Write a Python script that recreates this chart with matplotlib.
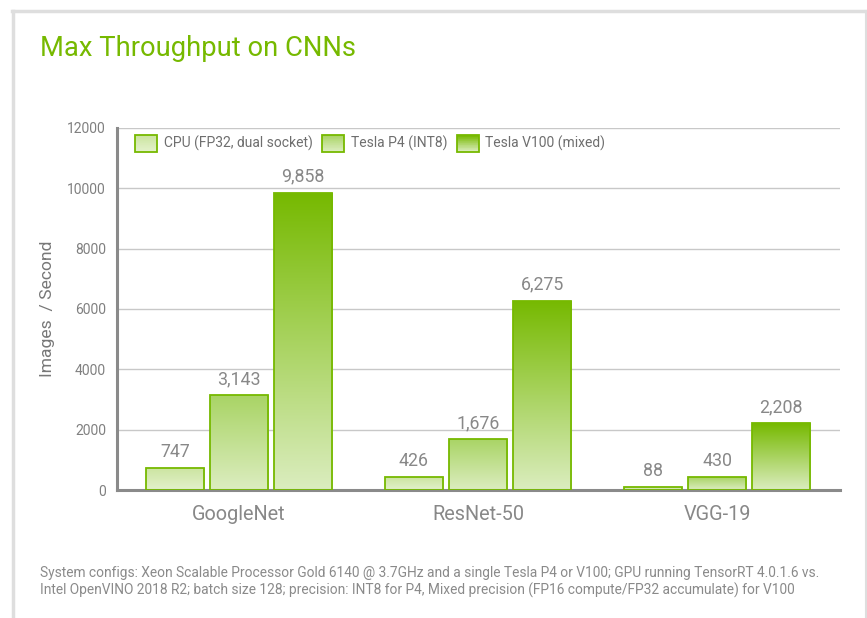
import numpy as np
import matplotlib
matplotlib.use('Agg')
import matplotlib.pyplot as plt
from matplotlib.colors import LinearSegmentedColormap, to_rgb
from matplotlib.patches import Patch, Rectangle
from matplotlib.legend_handler import HandlerBase
from matplotlib.lines import Line2D

plt.rcParams['font.family'] = ['Roboto', 'DejaVu Sans']

# data
networks = ['GoogleNet', 'ResNet-50', 'VGG-19']
series = ['CPU (FP32, dual socket)', 'Tesla P4 (INT8)', 'Tesla V100 (mixed)']
cpu = [747, 426, 88]
p4 = [3143, 1676, 430]
v100 = [9858, 6275, 2208]
yticks = [0, 2000, 4000, 6000, 8000, 10000, 12000]

green = '#76b900'
grey_txt = '#888888'
# (bottom colour, top colour) of each series' gradient
grads = [('#e3f1cb', '#cbe49f'), ('#dcedc0', '#a9d465'), ('#dbedbf', '#76b900')]

fig = plt.figure(figsize=(8.67, 6.18), dpi=100)
ax = fig.add_axes([0.135, 0.207, 0.834, 0.586])

x = np.arange(len(networks))
step = 0.268
width = 0.243


def grad_bar(bar, c_bot, c_top):
    x0, y0 = bar.get_x(), bar.get_y()
    w, h = bar.get_width(), bar.get_height()
    g = np.linspace(0, 1, 256).reshape(-1, 1)
    cmap = LinearSegmentedColormap.from_list('g', [c_bot, c_top])
    im = ax.imshow(g, extent=(x0, x0 + w, y0, y0 + h), origin='lower',
                   cmap=cmap, aspect='auto', zorder=2, interpolation='bilinear')
    im.set_clip_path(bar)


for i, vals in enumerate([cpu, p4, v100]):
    bars = ax.bar(x + (i - 1) * step, vals, width, facecolor='none',
                  edgecolor=green, linewidth=1.3, zorder=3)
    for b, v in zip(bars, vals):
        grad_bar(b, *grads[i])
        ax.text(b.get_x() + b.get_width() / 2, v + 230, f'{v:,}',
                ha='center', va='bottom', fontsize=12.8, color=grey_txt)

ax.set_xlim(-0.51, 2.515)
ax.set_ylim(0, 12000)
ax.set_yticks(yticks)
ax.set_yticklabels([str(t) for t in yticks], fontsize=10, color='#808080')
ax.set_xticks(x)
ax.set_xticklabels(networks, fontsize=14.3, color=grey_txt)
ax.tick_params(axis='both', length=0, pad=8)
ax.tick_params(axis='x', pad=11)
ax.grid(axis='y', color='#c8c8c8', linewidth=1, zorder=0)
ax.set_axisbelow(True)
for s in ['top', 'right']:
    ax.spines[s].set_visible(False)
for s in ['left', 'bottom']:
    ax.spines[s].set_color('#8a8a8a')
    ax.spines[s].set_linewidth(2.2)
ax.set_ylabel('Images  / Second', fontsize=12.6, color='#777777', labelpad=9)


class GradHandler(HandlerBase):
    def __init__(self, c_bot, c_top):
        super().__init__()
        self.c_bot = np.array(to_rgb(c_bot))
        self.c_top = np.array(to_rgb(c_top))

    def create_artists(self, legend, orig_handle, xdescent, ydescent,
                       width, height, fontsize, trans):
        arts = []
        n = 24
        for k in range(n):
            c = self.c_bot + (self.c_top - self.c_bot) * k / (n - 1)
            arts.append(Rectangle((-xdescent, -ydescent + k * height / n), width,
                                  height / n + 0.3, facecolor=c, edgecolor='none',
                                  transform=trans))
        arts.append(Rectangle((-xdescent, -ydescent), width, height,
                              facecolor='none', edgecolor=green, linewidth=1.3,
                              transform=trans))
        return arts


handles = [Patch(label=s) for s in series]
hmap = {h: GradHandler(*g) for h, g in zip(handles, grads)}
leg = ax.legend(handles=handles, handler_map=hmap, loc='upper left',
                bbox_to_anchor=(0.025, 0.98), ncol=3, frameon=False,
                fontsize=10, handlelength=1.6, handleheight=1.45,
                handletextpad=0.45, columnspacing=0.7, borderpad=0,
                borderaxespad=0)
for t in leg.get_texts():
    t.set_color('#6e6e6e')

fig.text(40 / 867, 1 - 49 / 618, 'Max Throughput on CNNs', fontsize=19.7,
         color=green, ha='left', va='center')
fig.text(40 / 867, 1 - 582 / 618,
         'System configs: Xeon Scalable Processor Gold 6140 @ 3.7GHz and a single Tesla P4 or V100; '
         'GPU running TensorRT 4.0.1.6 vs.\nIntel OpenVINO 2018 R2; batch size 128; precision: INT8 for P4, '
         'Mixed precision (FP16 compute/FP32 accumulate) for V100',
         fontsize=9.9, color='#8a8a8a', ha='left', va='center', linespacing=1.15)

# light frame around the card
fc = '#dedede'
fig.add_artist(Line2D([12 / 867, 866 / 867], [1 - 11 / 618, 1 - 11 / 618], color=fc, lw=2.5))
fig.add_artist(Line2D([12.5 / 867, 12.5 / 867], [0, 1 - 11 / 618], color=fc, lw=2.5))
fig.add_artist(Line2D([865.5 / 867, 865.5 / 867], [0, 1 - 11 / 618], color=fc, lw=1.5))

fig.savefig('out.png', dpi=100)
